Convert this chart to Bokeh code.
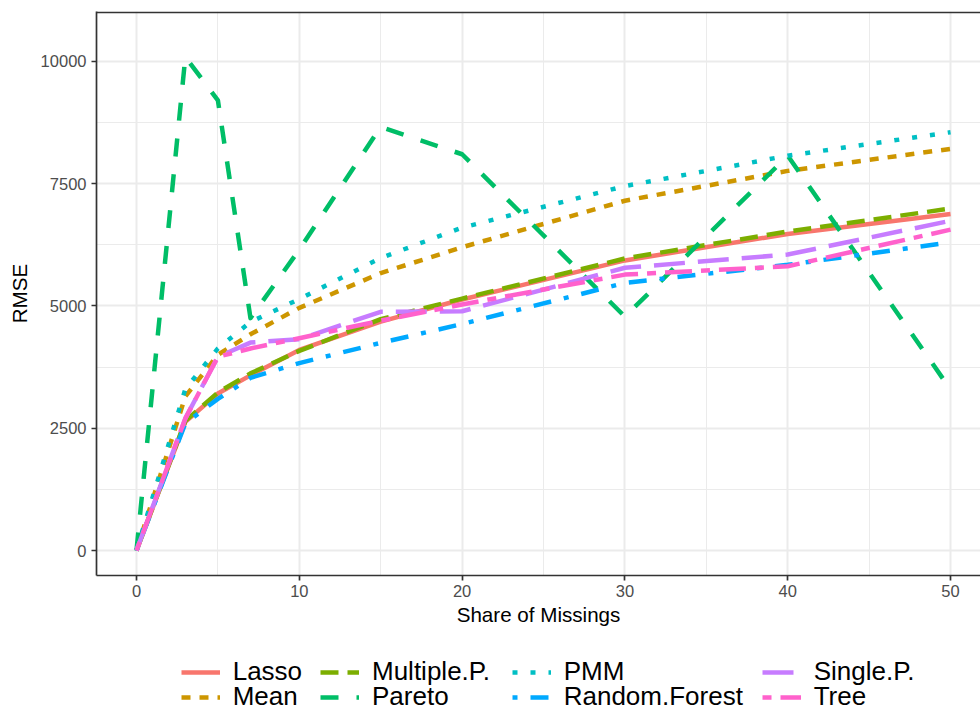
from bokeh.plotting import figure
from bokeh.models import Legend, LegendItem, FixedTicker, Range1d, Span
from bokeh.layouts import column
from bokeh.embed import file_html
from bokeh.resources import INLINE

# ---- data ----
share = [0, 3, 5, 7, 10, 15, 20, 30, 40, 50]
lasso = [0, 2630, 3210, 3580, 4100, 4680, 5130, 5930, 6470, 6880]
mean = [0, 3150, 4000, 4420, 4960, 5670, 6200, 7150, 7760, 8210]
multiple_p = [0, 2650, 3230, 3620, 4080, 4730, 5150, 5970, 6520, 6990]
pareto = [0, 10090, 9200, 4750, 6150, 8660, 8100, 4780, 8070, 3290]
pmm = [0, 3300, 4130, 4670, 5140, 5980, 6600, 7450, 8070, 8550]
random_forest = [0, 2600, 3100, 3530, 3830, 4245, 4630, 5470, 5840, 6300]
single_p = [0, 2700, 3960, 4250, 4320, 4880, 4890, 5780, 6050, 6740]
tree = [0, 2700, 3960, 4130, 4340, 4700, 5030, 5640, 5810, 6560]

names = ["Lasso", "Mean", "Multiple.P.", "Pareto", "PMM", "Random.Forest", "Single.P.", "Tree"]
series = [lasso, mean, multiple_p, pareto, pmm, random_forest, single_p, tree]
colors = ["#F8766D", "#CD9600", "#7CAE00", "#00BE67", "#00BFC4", "#00A9FF", "#C77CFF", "#FF61CC"]
dashes = ["solid", "9 9", "18 9", "18 18", "5 13", "5 13 18 13", "31 13", "9 9 27 9"]

x_ticks = [0, 10, 20, 30, 40, 50]
x_minor = [5, 15, 25, 35, 45]
y_ticks = [0, 2500, 5000, 7500, 10000]
y_minor = [1250, 3750, 6250, 8750]

FONT = "Liberation Sans"
Y_END = 11018

p = figure(width=980, height=635,
           x_range=Range1d(-2.457, 51.84), y_range=Range1d(-511, Y_END),
           output_backend="svg", toolbar_location=None,
           min_border_left=96, min_border_right=0, min_border_top=11, min_border_bottom=60,
           background_fill_color="white", border_fill_color="white")

p.outline_line_color = None

p.xaxis.ticker = FixedTicker(ticks=x_ticks, minor_ticks=x_minor)
p.yaxis.ticker = FixedTicker(ticks=y_ticks, minor_ticks=y_minor)

for ax in (p.xaxis, p.yaxis):
    ax.axis_line_color = "#333333"
    ax.axis_line_width = 1.7
    ax.major_tick_line_color = "#333333"
    ax.major_tick_line_width = 1.7
    ax.major_tick_in = 0
    ax.major_tick_out = 5
    ax.minor_tick_line_color = None
    ax.major_label_text_font = FONT
    ax.major_label_text_font_size = "16.5px"
    ax.major_label_text_color = "#4D4D4D"
    ax.major_label_standoff = 5
    ax.axis_label_text_font = FONT
    ax.axis_label_text_font_size = "20.6px"
    ax.axis_label_text_font_style = "normal"
    ax.axis_label_text_color = "black"

p.xaxis.axis_label = "Share of Missings"
p.yaxis.axis_label = "RMSE"
p.xaxis.major_label_standoff = 4
p.xaxis.axis_label_standoff = 3
p.yaxis.axis_label_standoff = 7

for g in (p.xgrid, p.ygrid):
    g.grid_line_color = "#EBEBEB"
    g.grid_line_width = 2
    g.minor_grid_line_color = "#EBEBEB"
    g.minor_grid_line_width = 1

# top panel border (the right one lies outside the visible area)
p.add_layout(Span(location=Y_END - 17, dimension="width", line_color="#333333", line_width=1.7))

for name, ys, c, d in zip(names, series, colors, dashes):
    p.line(share, ys, line_color=c, line_width=4.5, line_dash=d, line_cap="butt", line_join="round")

# ---- legend strip below the plot (its key renderers lie outside its view) ----
p2 = figure(width=980, height=78, x_range=Range1d(-2, -1), y_range=Range1d(0, 1),
            output_backend="svg", toolbar_location=None,
            x_axis_type=None, y_axis_type=None,
            min_border_left=96, min_border_right=0, min_border_top=0, min_border_bottom=0,
            background_fill_color="white", border_fill_color="white")
p2.outline_line_color = None
p2.grid.visible = False

keys = []
for name, ys, c, d in zip(names, series, colors, dashes):
    keys.append(p2.line(share, ys, line_color=c, line_width=4.5, line_dash=d, line_cap="butt"))

col_x = [180.7, 320, 511.7, 761.7]
row_y = [26, 1]
for i, (name, r) in enumerate(zip(names, keys)):
    ci, ri = divmod(i, 2)
    leg = Legend(items=[LegendItem(label=name, renderers=[r])],
                 location=(col_x[ci] - 96, row_y[ri]), orientation="vertical",
                 glyph_width=39, glyph_height=20, label_height=20,
                 label_standoff=13, spacing=0, padding=0, margin=0,
                 label_text_font=FONT, label_text_font_size="26px",
                 label_text_color="black", label_text_baseline="middle",
                 border_line_color=None, background_fill_alpha=0)
    p2.add_layout(leg, "center")

layout = column(p, p2, spacing=0)
open("out.html", "w").write(file_html(layout, INLINE))
